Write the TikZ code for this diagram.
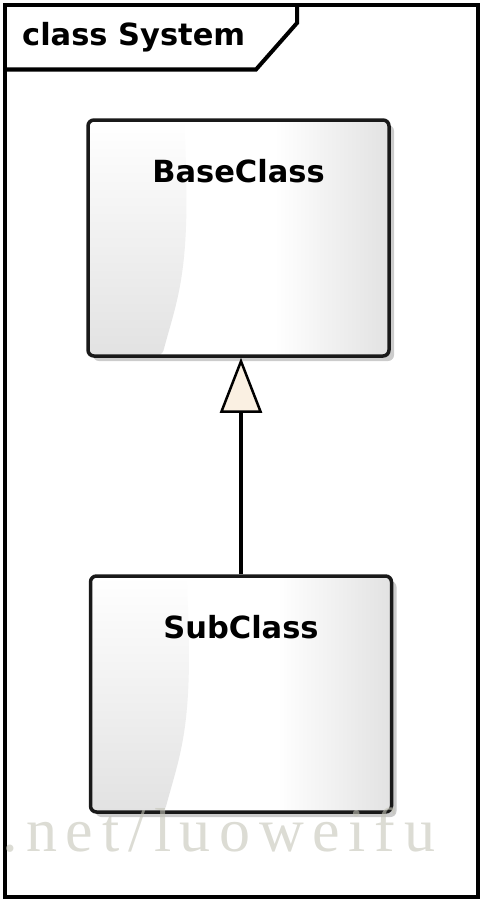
\documentclass[tikz,border=0pt]{standalone}
\usepackage{fontspec}
\newfontfamily\umlfont{DejaVu Sans}
\newfontfamily\markfont[LetterSpace=14]{Liberation Serif}
\usetikzlibrary{arrows.meta,shadows}
\definecolor{tipfill}{RGB}{250,240,226}
\definecolor{boxgray}{RGB}{226,226,226}
\definecolor{markgray}{RGB}{196,196,184}
\pgfdeclarehorizontalshading{classfill}{100bp}{color(0bp)=(white); color(25bp)=(white); color(56bp)=(white); color(75bp)=(boxgray); color(100bp)=(boxgray)}
\begin{document}
\begin{tikzpicture}[x=1pt,y=-1pt,
  frameline/.style={line width=4pt,line join=miter},
  umltext/.style={font=\umlfont\bfseries\fontsize{30.5}{36}\selectfont},
  classbox/.style={umltext,draw=black!90,line width=3.5pt,rounded corners=6pt,shading=classfill,
    minimum width=301pt,inner sep=0pt,text height=62pt,text depth=174pt,
    drop shadow={shadow xshift=5pt,shadow yshift=-5pt,fill=black!20,opacity=1},
    path picture={
      \shade[top color=white,bottom color=boxgray]
        (path picture bounding box.north west) -- ([xshift=96pt]path picture bounding box.north west)
        .. controls ([xshift=104pt,yshift=-150pt]path picture bounding box.north west)
        and ([xshift=90pt,yshift=60pt]path picture bounding box.south west)
        .. ([xshift=74pt]path picture bounding box.south west) -- (path picture bounding box.south west) -- cycle;
    }},
  genline/.style={line width=4pt,-{Triangle[length=55pt,width=42pt,fill=tipfill,line width=2.5pt]}}]
\useasboundingbox (0,0) rectangle (480,899);

\draw[frameline] (5,5) rectangle (478,897);
\draw[frameline] (5,69.5) -- (256,69.5) -- (297,23) -- (297,5);
\node[umltext,anchor=base west,inner sep=0pt] (title) at (22,46) {class System};

\node[classbox] (base) at (238.5,238) {BaseClass};
\node[classbox] (sub) at (241,694) {SubClass};
\draw[genline] (sub.north) -- (sub.north |- base.south);

\node[anchor=base west,inner sep=0pt,text=markgray,opacity=0.6,font=\markfont\fontsize{62}{70}\selectfont] (mark) at (2,851) {.net/luoweifu};
\end{tikzpicture}
\end{document}
